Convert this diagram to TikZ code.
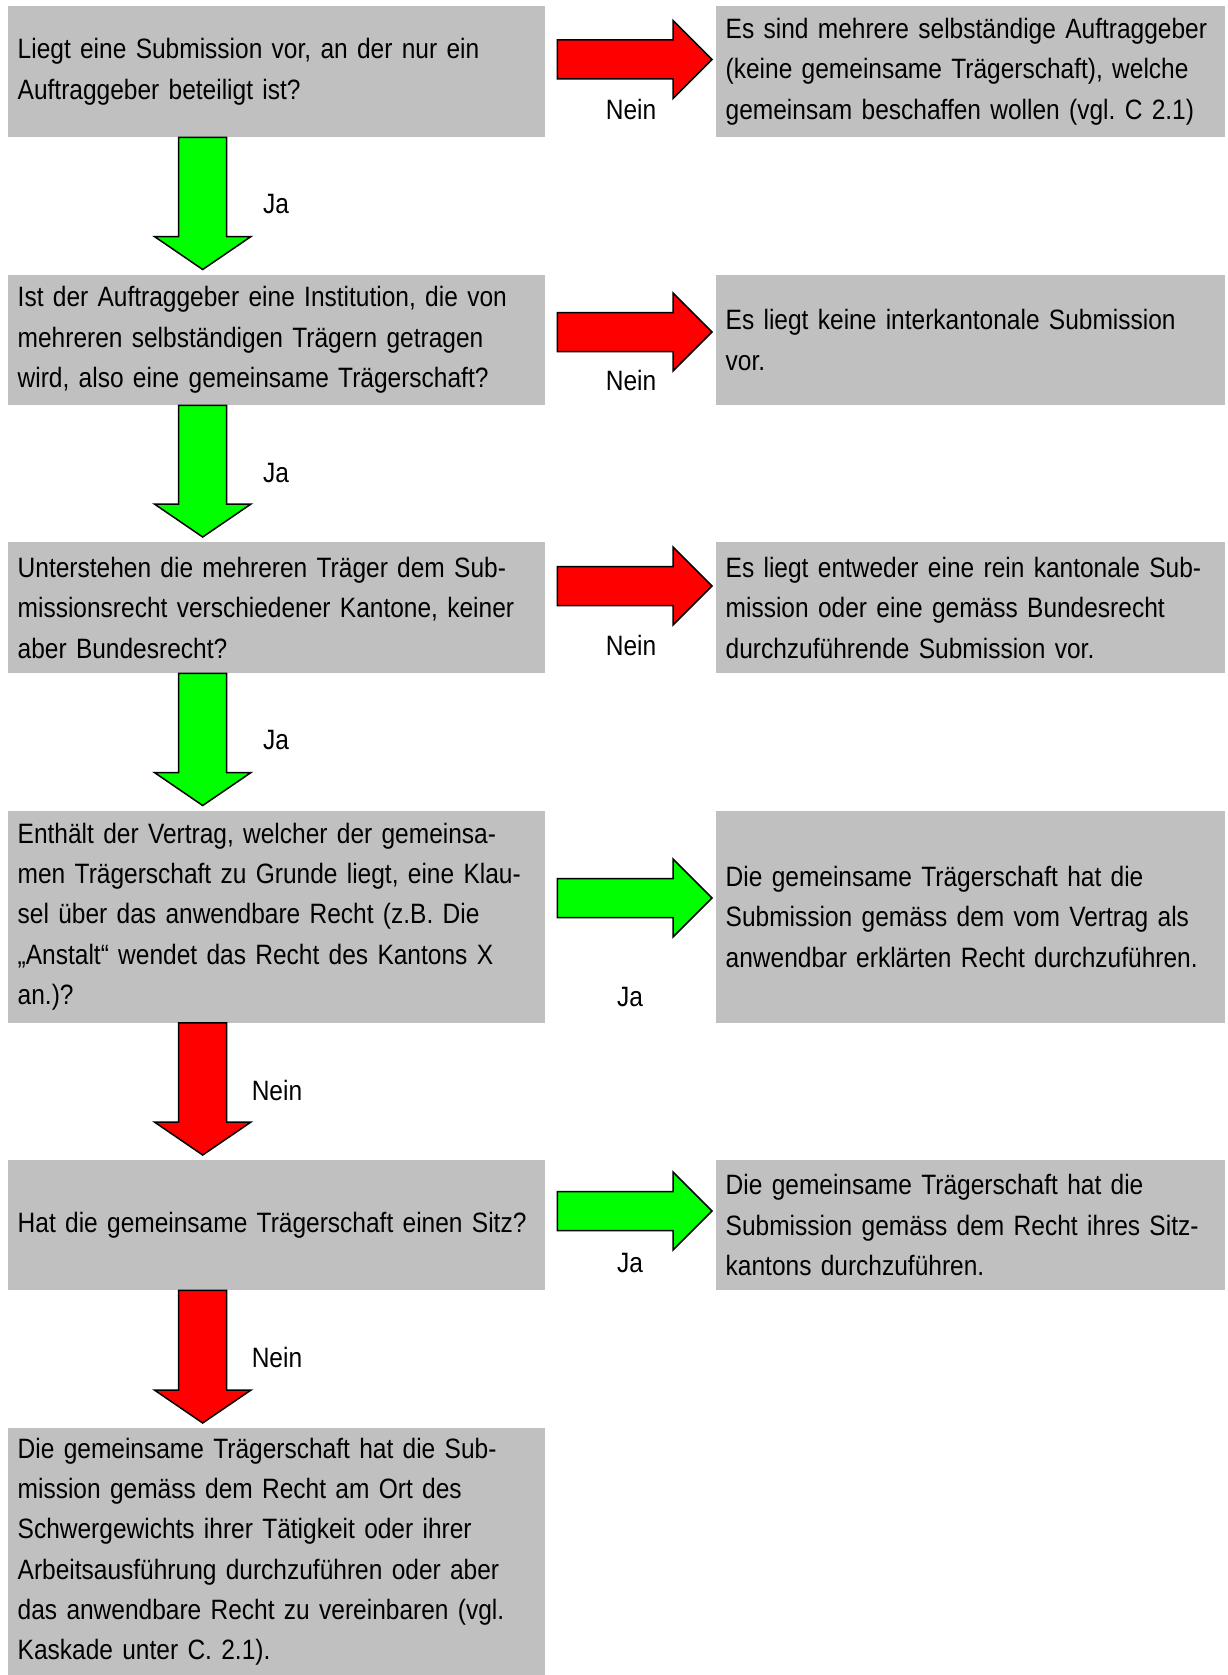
\documentclass[tikz,border=0pt]{standalone}
\usepackage{fontspec}
\setmainfont{Liberation Sans}[FakeStretch=0.875]
\usetikzlibrary{calc}
\definecolor{boxgray}{RGB}{192,192,192}
\definecolor{arrred}{RGB}{255,0,0}
\definecolor{arrgreen}{RGB}{0,255,0}
\tikzset{
  txt/.style={font=\fontsize{28}{40.3}\selectfont},
  lbox/.style={txt, fill=boxgray, inner xsep=10pt, inner ysep=0pt, text width=517.5pt,
    minimum height=#1, align=left, anchor=north west},
  rbox/.style={txt, fill=boxgray, inner xsep=10pt, inner ysep=0pt, text width=489.5pt,
    minimum height=#1, align=left, anchor=north west},
  lbl/.style={txt, inner sep=0pt},
  blockarrow/.style={draw=black, line width=1.5pt, line join=miter, fill=#1},
}
% down block arrow from box #2 to box #3, colour #1
\newcommand\downarr[3]{%
  \path let \p1=(#2.south west), \p2=(#3.north west) in
    [blockarrow=#1]
    (\x1+171.2pt,\y1) -- (\x1+219.2pt,\y1) -- (\x1+219.2pt,\y2+38pt)
    -- (\x1+243.5pt,\y2+38pt) -- (\x1+195.2pt,\y2+5pt) -- (\x1+146.9pt,\y2+38pt)
    -- (\x1+171.2pt,\y2+38pt) -- cycle;}
% right block arrow from box #2 to box #3, colour #1, centre #4 below top of #2
\newcommand\rightarr[4]{%
  \path let \p1=(#2.north east), \p2=(#3.north west) in
    [blockarrow=#1]
    (\x1+12pt,\y1-#4pt+19.5pt) -- (\x2-42.5pt,\y1-#4pt+19.5pt) -- (\x2-42.5pt,\y1-#4pt+39pt)
    -- (\x2-3.5pt,\y1-#4pt) -- (\x2-42.5pt,\y1-#4pt-39pt) -- (\x2-42.5pt,\y1-#4pt-19.5pt)
    -- (\x1+12pt,\y1-#4pt-19.5pt) -- cycle;}
\begin{document}
\frenchspacing
\hyphenpenalty=10000
\exhyphenpenalty=10000
\begin{tikzpicture}[x=1pt,y=-1pt]
\useasboundingbox[fill=white] (0,0) rectangle (1227,1675);

\node[lbox=131pt] (q1) at (7.5,6) {Liegt eine Submission vor, an der nur ein\\Auftraggeber beteiligt ist?};
\node[rbox=131pt] (r1) at (715.5,6) {Es sind mehrere selbständige Auftraggeber\\(keine gemeinsame Trägerschaft), welche\\gemeinsam beschaffen wollen (vgl. C 2.1)};

\node[lbox=130.5pt] (q2) at (7.5,274.5) {Ist der Auftraggeber eine Institution, die von\\mehreren selbständigen Trägern getragen\\wird, also eine gemeinsame Trägerschaft?};
\node[rbox=130.5pt] (r2) at (715.5,274.5) {Es liegt keine interkantonale Submission\\vor.};

\node[lbox=131pt] (q3) at (7.5,542) {Unterstehen die mehreren Träger dem Sub-\\missionsrecht verschiedener Kantone, keiner\\aber Bundesrecht?};
\node[rbox=131pt] (r3) at (715.5,542) {Es liegt entweder eine rein kantonale Sub-\\mission oder eine gemäss Bundesrecht\\durchzuführende Submission vor.};

\node[lbox=212pt] (q4) at (7.5,810.5) {Enthält der Vertrag, welcher der gemeinsa-\\men Trägerschaft zu Grunde liegt, eine Klau-\\sel über das anwendbare Recht (z.B. Die\\„Anstalt“ wendet das Recht des Kantons X\\an.)?};
\node[rbox=212pt] (r4) at (715.5,810.5) {Die gemeinsame Trägerschaft hat die\\Submission gemäss dem vom Vertrag als\\anwendbar erklärten Recht durchzuführen.};

\node[lbox=130pt] (q5) at (7.5,1160) {Hat die gemeinsame Trägerschaft einen Sitz?};
\node[rbox=130pt] (r5) at (715.5,1160) {Die gemeinsame Trägerschaft hat die\\Submission gemäss dem Recht ihres Sitz-\\kantons durchzuführen.};

\node[lbox=247pt] (q6) at (7.5,1428) {Die gemeinsame Trägerschaft hat die Sub-\\mission gemäss dem Recht am Ort des\\Schwergewichts ihrer Tätigkeit oder ihrer\\Arbeitsausführung durchzuführen oder aber\\das anwendbare Recht zu vereinbaren (vgl.\\Kaskade unter C. 2.1).};

% horizontal arrows
\rightarr{arrred}{q1}{r1}{53.5}
\rightarr{arrred}{q2}{r2}{57.5}
\rightarr{arrred}{q3}{r3}{44}
\rightarr{arrgreen}{q4}{r4}{87.5}
\rightarr{arrgreen}{q5}{r5}{51}

% vertical arrows
\downarr{arrgreen}{q1}{q2}
\downarr{arrgreen}{q2}{q3}
\downarr{arrgreen}{q3}{q4}
\downarr{arrred}{q4}{q5}
\downarr{arrred}{q5}{q6}

% labels
\node[lbl] (n1) at (631,109) {Nein};
\node[lbl] (n2) at (631,380) {Nein};
\node[lbl] (n3) at (631,645) {Nein};
\node[lbl] (j4) at (630,997) {Ja};
\node[lbl] (j5) at (630,1263) {Ja};
\node[lbl] (j1) at (276,204) {Ja};
\node[lbl] (j2) at (276,473) {Ja};
\node[lbl] (j3) at (276,740) {Ja};
\node[lbl] (n4) at (277,1090) {Nein};
\node[lbl] (n5) at (277,1357) {Nein};
\end{tikzpicture}
\end{document}
